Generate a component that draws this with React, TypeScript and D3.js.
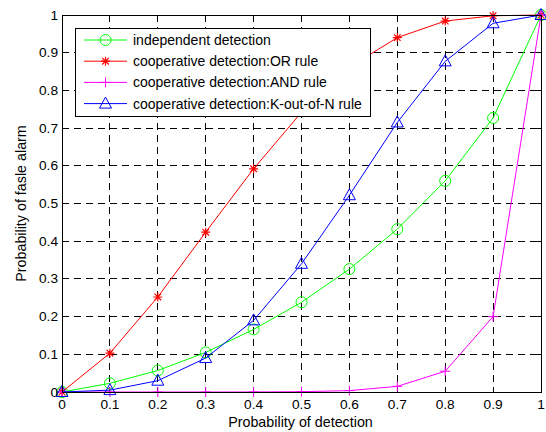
import React from "react";
import * as d3 from "d3";

const pd = [0, 0.1, 0.2, 0.3, 0.4, 0.5, 0.6, 0.7, 0.8, 0.9, 1];
const independent = [0, 0.023, 0.057, 0.105, 0.166, 0.238, 0.326, 0.432, 0.56, 0.727, 1];
const orRule = [0, 0.103, 0.252, 0.424, 0.592, 0.742, 0.862, 0.94, 0.984, 0.998, 1];
const andRule = [0, 0, 0, 0, 0.0001, 0.0008, 0.0037, 0.015, 0.055, 0.2, 1];
const kOutOfN = [0, 0.005, 0.03, 0.09, 0.19, 0.34, 0.522, 0.715, 0.877, 0.978, 1];
const ticks = [0, 0.1, 0.2, 0.3, 0.4, 0.5, 0.6, 0.7, 0.8, 0.9, 1];
const seriesNames = [
  "independent detection",
  "cooperative detection:OR rule",
  "cooperative detection:AND rule",
  "cooperative detection:K-out-of-N rule",
];
const seriesColors = ["#00ff00", "#ff0000", "#ff00ff", "#0000ff"];
const seriesMarkers = ["circle", "star", "plus", "triangle"];
const seriesData = [independent, orRule, andRule, kOutOfN];

const L = 62, R = 541, T = 15, B = 392;

function Marker({ kind, x, y, color }: { kind: string; x: number; y: number; color: string }) {
  if (kind === "circle") return <circle cx={x} cy={y} r={5.5} fill="none" stroke={color} strokeWidth={1} />;
  if (kind === "plus")
    return (
      <path d={`M${x - 5},${y}H${x + 5}M${x},${y - 5}V${y + 5}`} stroke={color} strokeWidth={1} fill="none" />
    );
  if (kind === "star")
    return (
      <path
        d={`M${x - 4.5},${y}H${x + 4.5}M${x},${y - 4.5}V${y + 4.5}M${x - 3.3},${y - 3.3}L${x + 3.3},${y + 3.3}M${x - 3.3},${y + 3.3}L${x + 3.3},${y - 3.3}`}
        stroke={color}
        strokeWidth={1.2}
        fill="none"
      />
    );
  return (
    <path
      d={`M${x},${y - 6.5}L${x + 6},${y + 4.5}L${x - 6},${y + 4.5}Z`}
      stroke={color}
      strokeWidth={1}
      fill="none"
    />
  );
}

export default function App() {
  const x = d3.scaleLinear().domain([0, 1]).range([L, R]);
  const y = d3.scaleLinear().domain([0, 1]).range([B, T]);
  const line = d3
    .line<number>()
    .x((_, i) => x(pd[i]))
    .y((d) => y(d));
  const font = "Arial, 'Liberation Sans', Helvetica, sans-serif";
  return (
    <svg
      width={546}
      height={432}
      style={{ position: "absolute", left: 0, top: 0 }}
      fontFamily={font}
    >
      <rect x={0} y={0} width={546} height={432} fill="#fff" />
      {/* grid */}
      {ticks.slice(1, -1).map((t) => (
        <g key={"g" + t}>
          <line x1={x(t)} x2={x(t)} y1={T} y2={B} stroke="#000" strokeWidth={1} strokeDasharray="7,5" shapeRendering="crispEdges" />
          <line x1={L} x2={R} y1={y(t)} y2={y(t)} stroke="#000" strokeWidth={1} strokeDasharray="7,5" shapeRendering="crispEdges" />
        </g>
      ))}
      {/* ticks */}
      {ticks.map((t) => (
        <g key={"t" + t} stroke="#000" strokeWidth={1} shapeRendering="crispEdges">
          <line x1={x(t)} x2={x(t)} y1={B} y2={B - 5} />
          <line x1={x(t)} x2={x(t)} y1={T} y2={T + 5} />
          <line x1={L} x2={L + 5} y1={y(t)} y2={y(t)} />
          <line x1={R} x2={R - 5} y1={y(t)} y2={y(t)} />
        </g>
      ))}
      {/* series */}
      {seriesData.map((d, si) => (
        <g key={"s" + si}>
          <path d={line(d) || ""} fill="none" stroke={seriesColors[si]} strokeWidth={1} />
          {d.map((v, i) => (
            <Marker key={i} kind={seriesMarkers[si]} x={x(pd[i])} y={y(v)} color={seriesColors[si]} />
          ))}
        </g>
      ))}
      {/* axes box */}
      <rect x={L} y={T} width={R - L} height={B - T} fill="none" stroke="#000" strokeWidth={1} shapeRendering="crispEdges" />
      {/* tick labels */}
      {ticks.map((t) => (
        <text key={"xl" + t} x={x(t)} y={B + 17} fontSize={13.7} textAnchor="middle" fill="#000">
          {d3.format("")(t)}
        </text>
      ))}
      {ticks.map((t) => (
        <text key={"yl" + t} x={L - 4} y={y(t) + 4.5} fontSize={13.7} textAnchor="end" fill="#000">
          {d3.format("")(t)}
        </text>
      ))}
      <text x={(L + R) / 2 - 1} y={427} fontSize={14.3} textAnchor="middle" fill="#000">
        Probability of detection
      </text>
      <text
        transform={`translate(25.5,${(T + B) / 2}) rotate(-90)`}
        fontSize={14.3}
        textAnchor="middle"
        fill="#000"
      >
        Probability of fasle alarm
      </text>
      {/* legend */}
      <rect x={75} y={28} width={295} height={88} fill="#fff" stroke="#000" strokeWidth={1} shapeRendering="crispEdges" />
      {seriesNames.map((n, i) => {
        const ly = 40 + i * 21.2;
        return (
          <g key={"lg" + i}>
            <line x1={84} x2={127} y1={ly} y2={ly} stroke={seriesColors[i]} strokeWidth={1} />
            <Marker kind={seriesMarkers[i]} x={105.5} y={ly} color={seriesColors[i]} />
            <text x={133} y={ly + 5} fontSize={14} fill="#000">
              {n}
            </text>
          </g>
        );
      })}
    </svg>
  );
}
